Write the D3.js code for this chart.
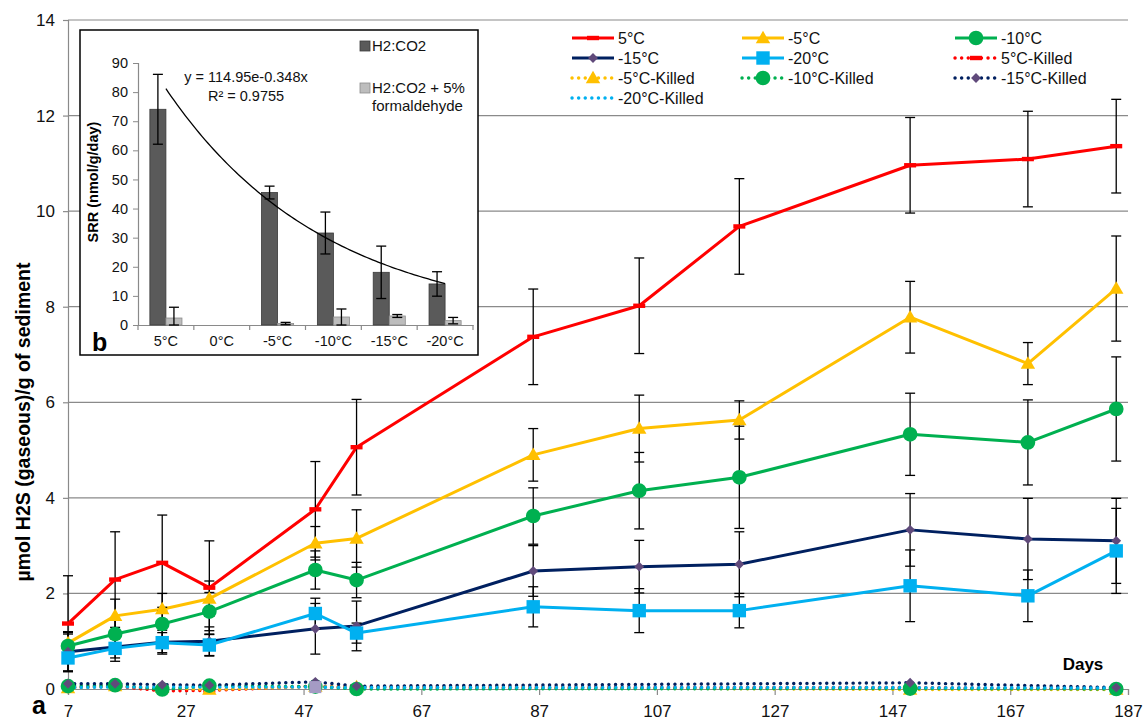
<!DOCTYPE html>
<html>
<head>
<meta charset="utf-8">
<script src="https://cdn.jsdelivr.net/npm/d3@7"></script>
<style>
  body { margin: 0; background: #fff; }
  text { font-family: "Liberation Sans", Arial, sans-serif; }
</style>
</head>
<body>
<div id="chart"></div>
<script>
// panel a: days and series means / error
const days = [7, 15, 23, 31, 49, 56, 86, 104, 121, 150, 170, 185];
const s5   = [1.37, 2.29, 2.64, 2.12, 3.76, 5.06, 7.37, 8.02, 9.68, 10.96, 11.09, 11.36];
const e5   = [1.0, 1.0, 1.0, 0.98, 1.0, 1.0, 1.0, 1.0, 1.0, 1.0, 1.0, 0.98];
const sm5  = [0.96, 1.53, 1.67, 1.89, 3.05, 3.15, 4.90, 5.45, 5.63, 7.78, 6.81, 8.38];
const em5  = [0.24, 0.35, 0.33, 0.37, 0.35, 0.6, 0.55, 0.7, 0.4, 0.75, 0.44, 1.1];
const sm10 = [0.90, 1.15, 1.36, 1.62, 2.49, 2.28, 3.62, 4.15, 4.43, 5.33, 5.16, 5.86];
const em10 = [0.25, 0.3, 0.35, 0.4, 0.4, 0.37, 0.59, 0.8, 1.07, 0.86, 0.89, 1.09];
const sm15 = [0.78, 0.88, 0.98, 1.00, 1.26, 1.32, 2.47, 2.56, 2.61, 3.33, 3.14, 3.10];
const em15 = [0.4, 0.3, 0.25, 0.3, 0.53, 0.52, 0.53, 0.55, 0.68, 0.76, 0.85, 0.89];
const sm20 = [0.65, 0.85, 0.97, 0.92, 1.58, 1.17, 1.72, 1.64, 1.64, 2.16, 1.95, 2.89];
const em20 = [0.29, 0.2, 0.21, 0.23, 0.32, 0.21, 0.42, 0.46, 0.36, 0.75, 0.54, 0.89];

const killedDays = [7, 15, 23, 31, 49, 56, 150, 185];
const k5   = [0.03, 0.06, -0.04, -0.03, 0.06, 0.04, 0.03, 0.0];
const km5  = [0.02, 0.06, 0.03, -0.01, 0.05, 0.04, -0.01, -0.01];
const km10 = [0.06, 0.08, -0.01, 0.07, 0.05, 0.0, 0.01, 0.0];
const km15 = [0.11, 0.11, 0.09, 0.08, 0.15, 0.06, 0.13, 0.03];
const km20 = [0.03, 0.04, 0.04, 0.04, 0.04, 0.03, 0.03, 0.02];

const xTicks = [7, 27, 47, 67, 87, 107, 127, 147, 167, 187];
const yTicks = [0, 2, 4, 6, 8, 10, 12, 14];

// panel b
const srrCats  = ["5°C", "0°C", "-5°C", "-10°C", "-15°C", "-20°C"];
const srrH2    = [74.1, null, 45.5, 31.6, 18.1, 14.1];
const srrH2Err = [12.0, null, 2.2, 7.2, 9.0, 4.2];
const srrForm    = [2.4, null, 0.5, 2.75, 3.1, 1.5];
const srrFormErr = [3.7, null, 0.4, 2.75, 0.5, 1.1];
const srrTicks = [0, 10, 20, 30, 40, 50, 60, 70, 80, 90];
const fitA = 114.95, fitB = -0.348;

const series = [
  {name: "5°C", vals: s5, err: e5, color: "#ff0000", mark: "dash", mcolor: "#ff0000"},
  {name: "-5°C", vals: sm5, err: em5, color: "#ffc000", mark: "triangle", mcolor: "#ffc000"},
  {name: "-10°C", vals: sm10, err: em10, color: "#00b050", mark: "circle", mcolor: "#00b050"},
  {name: "-15°C", vals: sm15, err: em15, color: "#002060", mark: "diamond", mcolor: "#604a7b"},
  {name: "-20°C", vals: sm20, err: em20, color: "#00b0f0", mark: "square", mcolor: "#00b0f0"}
];
const killed = [
  {name: "5°C-Killed", vals: k5, color: "#ff0000", mark: "dash", mcolor: "#ff0000"},
  {name: "-5°C-Killed", vals: km5, color: "#ffc000", mark: "triangle", mcolor: "#ffc000"},
  {name: "-10°C-Killed", vals: km10, color: "#00b050", mark: "circle", mcolor: "#00b050"},
  {name: "-15°C-Killed", vals: km15, color: "#002060", mark: "diamond", mcolor: "#604a7b"},
  {name: "-20°C-Killed", vals: km20, color: "#00b0f0", mark: null, mcolor: "#00b0f0"}
];

const W = 1146, H = 720;
const svg = d3.select("#chart").append("svg")
  .attr("width", W).attr("height", H)
  .style("background", "#fff");

const x = d3.scaleLinear().domain([7, 187]).range([68, 1128]);
const y = d3.scaleLinear().domain([0, 14]).range([689, 20]);
const gridColor = "#8a8a8a";

// gridlines
svg.append("g").selectAll("line").data(yTicks.slice(1)).join("line")
  .attr("x1", x(7)).attr("x2", x(187))
  .attr("y1", d => y(d)).attr("y2", d => y(d))
  .attr("stroke", gridColor).attr("stroke-width", 1.2);

// axes
const xAxis = svg.append("g").attr("transform", `translate(0,${y(0)})`)
  .call(d3.axisBottom(x).tickValues(xTicks).tickSize(6).tickPadding(10));
const yAxis = svg.append("g").attr("transform", `translate(${x(7)},0)`)
  .call(d3.axisLeft(y).tickValues(yTicks).tickSize(5).tickPadding(8));
[xAxis, yAxis].forEach(a => {
  a.select(".domain").attr("stroke", gridColor).attr("stroke-width", 1.2);
  a.selectAll(".tick line").attr("stroke", gridColor).attr("stroke-width", 1.2);
  a.selectAll("text").attr("font-size", 17).attr("fill", "#111")
    .attr("font-family", "Liberation Sans, Arial, sans-serif");
});

svg.append("text")
  .attr("transform", "translate(30,422) rotate(-90)")
  .attr("text-anchor", "middle")
  .attr("font-size", 19.5).attr("font-weight", "bold")
  .text("µmol H2S (gaseous)/g of sediment");
svg.append("text").attr("x", 32).attr("y", 714)
  .attr("font-size", 25).attr("font-weight", "bold").text("a");
svg.append("text").attr("x", 1083).attr("y", 670).attr("text-anchor", "middle")
  .attr("font-size", 17).attr("font-weight", "bold").text("Days");

function drawMarker(g, type, color, cx, cy, scale) {
  const s = scale || 1;
  if (type === "dash") {
    g.append("rect").attr("x", cx - 6 * s).attr("y", cy - 2.2 * s)
      .attr("width", 12 * s).attr("height", 4.4 * s).attr("fill", color);
  } else if (type) {
    const sym = {triangle: d3.symbolTriangle, circle: d3.symbolCircle,
                 diamond: d3.symbolDiamond2, square: d3.symbolSquare}[type];
    const size = {triangle: 90, circle: 170, diamond: 62, square: 180}[type];
    g.append("path").attr("d", d3.symbol(sym, size * s * s)())
      .attr("transform", `translate(${cx},${cy + (type === "triangle" ? 1 : 0)})`)
      .attr("fill", color);
  }
}

const line = d3.line().x(d => x(d[0])).y(d => y(d[1]));

// main series
const gMain = svg.append("g");
series.forEach(s => {
  const pts = days.map((d, i) => [d, s.vals[i]]);
  gMain.append("path").datum(pts).attr("d", line)
    .attr("fill", "none").attr("stroke", s.color).attr("stroke-width", 3)
    .attr("stroke-linejoin", "round");
});
// error bars
const gErr = svg.append("g").attr("stroke", "#000").attr("stroke-width", 1.3);
series.forEach(s => {
  days.forEach((d, i) => {
    const cx = x(d), lo = y(s.vals[i] - s.err[i]), hi = y(s.vals[i] + s.err[i]);
    gErr.append("line").attr("x1", cx).attr("x2", cx).attr("y1", lo).attr("y2", hi);
    gErr.append("line").attr("x1", cx - 5).attr("x2", cx + 5).attr("y1", lo).attr("y2", lo);
    gErr.append("line").attr("x1", cx - 5).attr("x2", cx + 5).attr("y1", hi).attr("y2", hi);
  });
});
const gMarks = svg.append("g");
series.forEach(s => {
  days.forEach((d, i) => drawMarker(gMarks, s.mark, s.mcolor, x(d), y(s.vals[i])));
});

// killed series (dotted)
const gKill = svg.append("g");
killed.forEach(s => {
  const pts = killedDays.map((d, i) => [d, s.vals[i]]);
  gKill.append("path").datum(pts).attr("d", line)
    .attr("fill", "none").attr("stroke", s.color).attr("stroke-width", 3.4)
    .attr("stroke-linecap", "round").attr("stroke-dasharray", "0.1 6.5");
});
killed.forEach(s => {
  killedDays.forEach((d, i) => drawMarker(gKill, s.mark, s.mcolor, x(d), y(s.vals[i])));
});
// lavender square seen on the -20°C-Killed series at day 49
drawMarker(gKill, "square", "#a59bc4", x(killedDays[4]), y(km20[4]), 0.9);

// legend
const legendItems = series.concat(killed);
const legCols = [572, 742, 955];
const legRows = [38, 58, 78, 98];
const gLeg = svg.append("g");
legendItems.forEach((s, i) => {
  const lx = legCols[i % 3], ly = legRows[Math.floor(i / 3)];
  const isKilled = s.name.includes("Killed");
  gLeg.append("line").attr("x1", lx).attr("x2", lx + 42).attr("y1", ly).attr("y2", ly)
    .attr("stroke", s.color).attr("stroke-width", isKilled ? 3.4 : 3)
    .attr("stroke-linecap", isKilled ? "round" : "butt")
    .attr("stroke-dasharray", isKilled ? "0.1 6.5" : null);
  drawMarker(gLeg, s.mark, s.mcolor, lx + 21, ly);
  gLeg.append("text").attr("x", lx + 46).attr("y", ly + 6)
    .attr("font-size", 16).attr("fill", "#111").text(s.name);
});

// ---- inset panel b ----
const inset = svg.append("g");
inset.append("rect").attr("x", 80).attr("y", 30).attr("width", 398).attr("height", 325)
  .attr("fill", "#fff").attr("stroke", "#000").attr("stroke-width", 1.5);

const xb = d3.scaleBand().domain(srrCats).range([138, 473]);
const sub = d3.scaleBand().domain(["h2", "form"]).range([0, xb.bandwidth()])
  .paddingInner(0).paddingOuter(0.74);
const yb = d3.scaleLinear().domain([0, 90]).range([325, 63]);

const ybAxis = inset.append("g").attr("transform", "translate(138,0)")
  .call(d3.axisLeft(yb).tickValues(srrTicks).tickSize(5).tickPadding(5));
const xbAxis = inset.append("g").attr("transform", "translate(0,325)")
  .call(d3.axisBottom(xb).tickSize(0).tickPadding(11));
[ybAxis, xbAxis].forEach(a => {
  a.select(".domain").attr("stroke", gridColor).attr("stroke-width", 1.2);
  a.selectAll(".tick line").attr("stroke", gridColor);
  a.selectAll("text").attr("font-size", 14.5).attr("fill", "#111")
    .attr("font-family", "Liberation Sans, Arial, sans-serif");
});
// band boundary ticks on x axis
inset.append("g").selectAll("line").data(srrCats.concat(["end"])).join("line")
  .attr("x1", (d, i) => xb.range()[0] + i * xb.step())
  .attr("x2", (d, i) => xb.range()[0] + i * xb.step())
  .attr("y1", 325).attr("y2", 330)
  .attr("stroke", gridColor).attr("stroke-width", 1.2);

const barSets = [
  {key: "h2", vals: srrH2, err: srrH2Err, fill: "#5a5a5a", stroke: "#3a3a3a"},
  {key: "form", vals: srrForm, err: srrFormErr, fill: "#bdbdbd", stroke: "#8c8c8c"}
];
barSets.forEach(b => {
  srrCats.forEach((c, i) => {
    if (b.vals[i] == null) return;
    const bx = xb(c) + sub(b.key);
    inset.append("rect").attr("x", bx).attr("y", yb(b.vals[i]))
      .attr("width", sub.bandwidth()).attr("height", yb(0) - yb(b.vals[i]))
      .attr("fill", b.fill).attr("stroke", b.stroke).attr("stroke-width", 0.8);
  });
});
barSets.forEach(b => {
  srrCats.forEach((c, i) => {
    if (b.vals[i] == null) return;
    const cx = xb(c) + sub(b.key) + sub.bandwidth() / 2;
    const lo = yb(Math.max(0, b.vals[i] - b.err[i])), hi = yb(b.vals[i] + b.err[i]);
    const g = inset.append("g").attr("stroke", "#000").attr("stroke-width", 1.3);
    g.append("line").attr("x1", cx).attr("x2", cx).attr("y1", lo).attr("y2", hi);
    g.append("line").attr("x1", cx - 5).attr("x2", cx + 5).attr("y1", lo).attr("y2", lo);
    g.append("line").attr("x1", cx - 5).attr("x2", cx + 5).attr("y1", hi).attr("y2", hi);
  });
});

// exponential trendline y = a*exp(b*x), x = category index 1..6
const catPos = k => xb(srrCats[0]) + xb.bandwidth() / 2 + (k - 1) * xb.step();
const fitPts = d3.range(1, 6.001, 0.05).map(k => [catPos(k), yb(fitA * Math.exp(fitB * k))]);
inset.append("path").datum(fitPts).attr("d", d3.line())
  .attr("fill", "none").attr("stroke", "#000").attr("stroke-width", 1.3);
inset.append("text").attr("x", 246).attr("y", 82).attr("text-anchor", "middle")
  .attr("font-size", 14.5).attr("fill", "#111").text("y = 114.95e-0.348x");
inset.append("text").attr("x", 246).attr("y", 101).attr("text-anchor", "middle")
  .attr("font-size", 14.5).attr("fill", "#111").text("R² = 0.9755");

// inset legend
const insLeg = [
  {lines: ["H2:CO2"], fill: "#5a5a5a", stroke: "#3a3a3a", y: 46},
  {lines: ["H2:CO2 + 5%", "formaldehyde"], fill: "#bdbdbd", stroke: "#8c8c8c", y: 88}
];
insLeg.forEach(l => {
  inset.append("rect").attr("x", 360).attr("y", l.y - 5).attr("width", 10).attr("height", 10)
    .attr("fill", l.fill).attr("stroke", l.stroke).attr("stroke-width", 0.8);
  l.lines.forEach((t, j) => {
    inset.append("text").attr("x", 372).attr("y", l.y + 5 + j * 18)
      .attr("font-size", 15).attr("fill", "#111").text(t);
  });
});

inset.append("text")
  .attr("transform", "translate(98,182) rotate(-90)")
  .attr("text-anchor", "middle").attr("font-size", 14.5).attr("font-weight", "bold")
  .text("SRR (nmol/g/day)");
inset.append("text").attr("x", 92).attr("y", 351)
  .attr("font-size", 25).attr("font-weight", "bold").text("b");
</script>
</body>
</html>
